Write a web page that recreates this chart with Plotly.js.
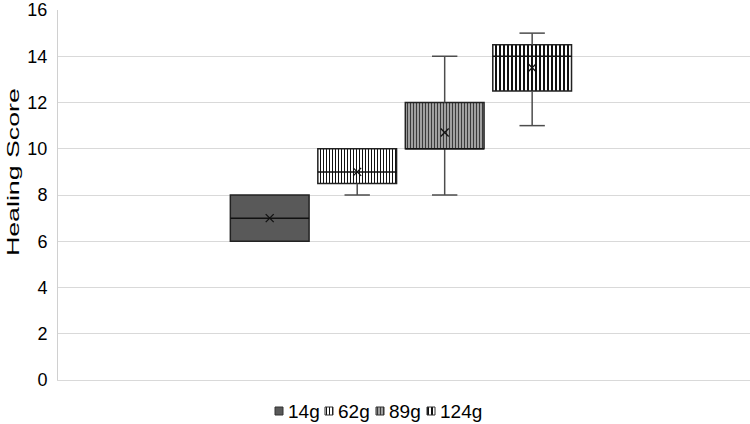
<!DOCTYPE html>
<html>
<head>
<meta charset="utf-8">
<script src="https://cdn.plot.ly/plotly-3.0.1.min.js"></script>
<style>
  html, body { margin: 0; padding: 0; background: #fff; }
  #chart { width: 750px; height: 424px; }
</style>
</head>
<body>
<div id="chart"></div>
<script>
// Healing score summary per dose group
const groups     = ["14g", "62g", "89g", "124g"];
const lowWhisker = [6, 8, 8, 11];
const q1         = [6, 8.5, 10, 12.5];
const medians    = [7, 9, 10, 14];
const q3         = [8, 10, 12, 14.5];
const highWhisker= [8, 10, 14, 15];
const means      = [7, 9, 10.7, 13.5];
const yTitle     = "Healing Score";

// Fill styles for each group box
const fills = [
  { bgcolor: "#595959", fgcolor: "#595959", shape: "", size: 4, solidity: 0.3 },
  { bgcolor: "#ffffff", fgcolor: "#111111", shape: "|", size: 3, solidity: 0.35 },
  { bgcolor: "#ababab", fgcolor: "#3a3a3a", shape: "|", size: 3, solidity: 0.4 },
  { bgcolor: "#ffffff", fgcolor: "#111111", shape: "|", size: 4, solidity: 0.5 }
];

const boxWidth = 0.9;
const capWidth = 0.29;
const xs = groups.map((_, i) => i + 1);

// Legend strip geometry (pixel units of the small legend axes)
const keyLeft = [275, 325, 376, 427];
const keySize = 8;
const keyTop = 407;
const keyMid = 411.5;

const pattern = (f) => ({ shape: f.shape, bgcolor: f.bgcolor, fgcolor: f.fgcolor, size: f.size, solidity: f.solidity, fillmode: "replace" });

const traces = [];

// Boxes (q1 to q3) as based bars
groups.forEach((g, i) => {
  const f = fills[i];
  traces.push({
    type: "bar",
    name: g,
    x: [xs[i]],
    base: [q1[i]],
    y: [q3[i] - q1[i]],
    width: boxWidth,
    marker: { color: f.bgcolor, line: { color: "#222222", width: 1.5 }, pattern: pattern(f) },
    hoverinfo: "skip",
    showlegend: false
  });
});

// Whiskers with caps
groups.forEach((g, i) => {
  const x = xs[i], h = capWidth / 2;
  const wx = [], wy = [];
  if (highWhisker[i] > q3[i]) {
    wx.push(x, x, null, x - h, x + h, null);
    wy.push(q3[i], highWhisker[i], null, highWhisker[i], highWhisker[i], null);
  }
  if (lowWhisker[i] < q1[i]) {
    wx.push(x, x, null, x - h, x + h, null);
    wy.push(q1[i], lowWhisker[i], null, lowWhisker[i], lowWhisker[i], null);
  }
  if (wx.length) {
    traces.push({
      type: "scatter", mode: "lines", x: wx, y: wy,
      line: { color: "#4d4d4d", width: 1.5 },
      hoverinfo: "skip", showlegend: false, cliponaxis: false
    });
  }
});

// Median lines
const mx = [], my = [];
groups.forEach((g, i) => {
  mx.push(xs[i] - boxWidth / 2, xs[i] + boxWidth / 2, null);
  my.push(medians[i], medians[i], null);
});
traces.push({
  type: "scatter", mode: "lines", x: mx, y: my,
  line: { color: "#111111", width: 1.5 },
  hoverinfo: "skip", showlegend: false
});

// Mean markers
traces.push({
  type: "scatter", mode: "markers", x: xs, y: means,
  marker: { symbol: "x-thin", size: 8, line: { color: "#111111", width: 1.3 } },
  hoverinfo: "skip", showlegend: false
});

// Legend key swatches
groups.forEach((g, i) => {
  const f = fills[i];
  traces.push({
    type: "bar",
    x: [keyLeft[i] + keySize / 2],
    base: [keyTop],
    y: [keySize],
    width: keySize,
    xaxis: "x2", yaxis: "y2",
    marker: { color: f.bgcolor, line: { color: "#333333", width: 1 }, pattern: pattern(f) },
    hoverinfo: "skip",
    showlegend: false
  });
});

const annotations = groups.map((g, i) => ({
  text: g,
  xref: "x2", yref: "y2",
  x: keyLeft[i] + keySize + 3, y: keyMid,
  xanchor: "left", yanchor: "middle",
  showarrow: false,
  font: { size: 19, color: "#000000" }
}));

// Vertical axis title
annotations.push({
  text: yTitle,
  xref: "paper", yref: "paper",
  x: -0.065, y: 0.6075,
  xanchor: "center", yanchor: "middle",
  textangle: -90,
  showarrow: false,
  font: { size: 17, color: "#000000" }
});

const layout = {
  width: 750, height: 424,
  margin: { l: 58, r: 0, t: 10, b: 0 },
  paper_bgcolor: "#ffffff",
  plot_bgcolor: "#ffffff",
  font: { family: "Liberation Sans, Arial, sans-serif", color: "#000000" },
  barmode: "overlay",
  showlegend: false,
  annotations: annotations,
  xaxis: {
    range: [-1.42, 6.49],
    showticklabels: false,
    ticks: "",
    showgrid: false,
    zeroline: false,
    showline: true,
    linecolor: "#d9d9d9",
    linewidth: 1,
    fixedrange: true
  },
  yaxis: {
    domain: [0.10628, 1],
    range: [0, 16],
    dtick: 2,
    tick0: 0,
    ticks: "",
    showgrid: true,
    gridcolor: "#d9d9d9",
    gridwidth: 1,
    zeroline: false,
    showline: true,
    linecolor: "#d0d0d0",
    linewidth: 1,
    tickfont: { size: 18, color: "#000000" },
    ticklabelstandoff: 6,
    fixedrange: true
  },
  xaxis2: {
    domain: [0, 1], anchor: "y2", range: [58, 750],
    visible: false, fixedrange: true
  },
  yaxis2: {
    domain: [0, 0.10628], anchor: "x2", range: [424, 380],
    visible: false, fixedrange: true
  }
};

Plotly.newPlot("chart", traces, layout, { displayModeBar: false, staticPlot: true }).then((gd) => {
  // The axis title is set in a stretched face spanning most of the plot height
  gd.querySelectorAll(".annotation-text").forEach((t) => {
    if (t.textContent === yTitle) {
      t.setAttribute("textLength", "168");
      t.setAttribute("lengthAdjust", "spacingAndGlyphs");
    }
  });
});
</script>
</body>
</html>
